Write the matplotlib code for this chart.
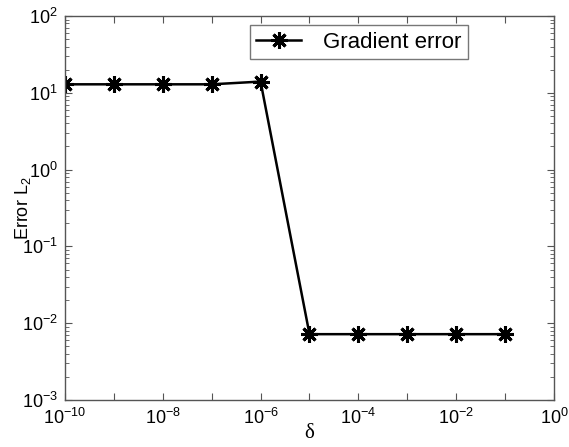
import numpy as np
import matplotlib
matplotlib.use("Agg")
import matplotlib.pyplot as plt
from matplotlib.ticker import LogLocator, FixedLocator, FixedFormatter, NullLocator

# data
delta = [1e-10, 1e-9, 1e-8, 1e-7, 1e-6, 1e-5, 1e-4, 1e-3, 1e-2, 1e-1]
grad_err = [12.9, 12.9, 12.9, 12.9, 14.0, 0.0072, 0.0072, 0.0072, 0.0072, 0.0072]

x_decades = list(range(-10, 1))
x_labels = [f"$10^{{{d}}}$" if d % 2 == 0 else "" for d in x_decades]
y_decades = list(range(-3, 3))

plt.rcParams["font.family"] = ["Liberation Sans", "DejaVu Sans"]
plt.rcParams["mathtext.fontset"] = "custom"
plt.rcParams["mathtext.rm"] = "Liberation Sans"
plt.rcParams["mathtext.it"] = "Liberation Sans"

fig = plt.figure(figsize=(5.69, 4.47), dpi=100)
ax = fig.add_axes([0.1142, 0.1051, 0.8594, 0.8591])

ax.plot(delta, grad_err, color="black", lw=1.8, marker=(8, 2, 0),
        markersize=12, markeredgewidth=2.2, label="Gradient error")

ax.set_xscale("log")
ax.set_yscale("log")
ax.set_xlim(1e-10, 1e0)
ax.set_ylim(1e-3, 1e2)

ax.xaxis.set_major_locator(FixedLocator([10.0 ** d for d in x_decades]))
ax.xaxis.set_major_formatter(FixedFormatter(x_labels))
ax.xaxis.set_minor_locator(NullLocator())
ax.yaxis.set_major_locator(FixedLocator([10.0 ** d for d in y_decades]))
ax.yaxis.set_major_formatter(FixedFormatter([f"$10^{{{d}}}$" for d in y_decades]))
ax.yaxis.set_minor_locator(LogLocator(base=10, subs=np.arange(2, 10), numticks=20))

for s in ax.spines.values():
    s.set_color("#555555")
    s.set_linewidth(1.0)
ax.tick_params(which="both", direction="in", top=True, right=True, color="#555555")
ax.tick_params(which="major", length=5, labelsize=13)
ax.tick_params(axis="x", which="major", pad=6)
ax.tick_params(axis="y", which="major", pad=5)
ax.tick_params(which="minor", length=3)

ax.set_xlabel("δ", family=["Liberation Serif", "DejaVu Serif"], fontsize=15, labelpad=-3)
ax.set_ylabel("Error L$_2$", fontsize=13, labelpad=-8)

leg = ax.legend(loc="upper left", bbox_to_anchor=(0.378, 0.977), fontsize=16,
                frameon=True, fancybox=False, edgecolor="#555555",
                handlelength=2.0, handletextpad=1.0, borderpad=0.3, borderaxespad=0)
leg.get_frame().set_linewidth(1.0)

fig.savefig("out.png", dpi=100)
